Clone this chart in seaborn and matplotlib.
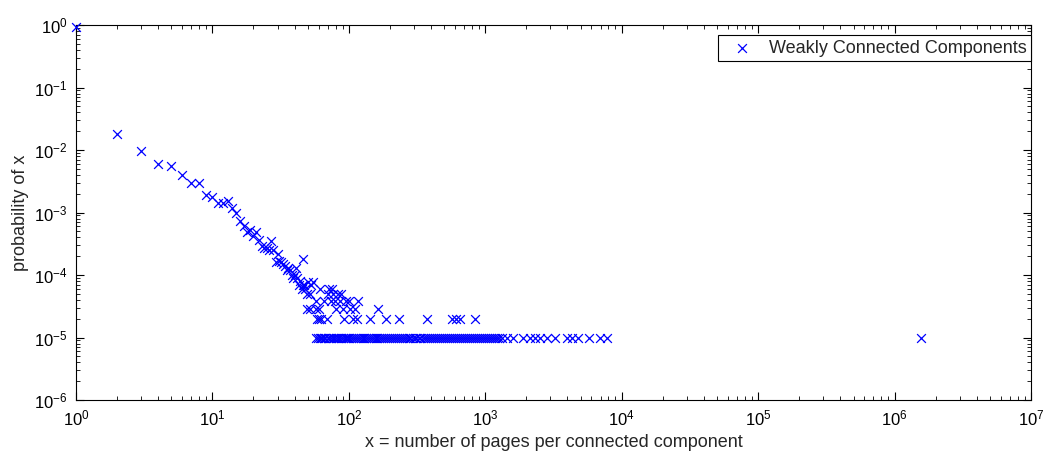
import numpy as np
import pandas as pd
import matplotlib
matplotlib.use("Agg")
import matplotlib.pyplot as plt
import seaborn as sns
from matplotlib.ticker import LogLocator, NullFormatter

# ---- data ----
head_sizes = [1, 2, 3, 4, 5, 6, 7, 8, 9, 10, 11, 12, 13, 14, 15, 16, 17, 18, 19, 20,
              21, 22, 23, 24, 25, 26, 27, 28, 29, 30, 31, 32, 33, 34, 35, 36, 37, 38,
              39, 40, 41, 42, 43, 44, 45, 46, 47]
head_probs = [0.93, 0.018, 0.0095, 0.006, 0.0055, 0.004, 0.003, 0.003, 0.0019, 0.0018,
              0.0014, 0.0014, 0.0015, 0.0012, 0.001, 0.00073, 0.0006, 0.00048, 0.00052,
              0.00042, 0.00049, 0.00036, 0.00029, 0.00027, 0.00027, 0.00025, 0.00035,
              0.00025, 0.00016, 0.00022, 0.00017, 0.00016, 0.00015, 0.00014, 0.00012,
              0.00013, 0.00012, 0.0001, 0.000088, 0.0001, 0.00013, 0.000088, 0.00007,
              0.00008, 0.00006, 0.00018, 0.00007]

sizes_k8 = [50, 55]
sizes_k7 = [46, 53]
sizes_k6 = [48, 61, 72, 75]
sizes_k5 = [49, 52, 70, 77, 83, 88]
sizes_k4 = [57, 66, 74, 79, 86, 96, 101, 117]
sizes_k3 = [49, 52, 57, 60, 81, 91, 102, 111, 164]
sizes_k2 = [58, 60, 63, 69, 92, 107, 115, 144, 187, 235, 372, 568, 611, 653, 841]
sizes_k1 = [57, 59, 61, 62, 64, 66, 67, 70, 72, 74, 76, 78, 80, 83, 85, 88, 90, 93, 95,
            98, 101, 104, 108, 111, 114, 118, 122, 126, 130, 134, 138, 142, 147, 152,
            157, 162, 167, 172, 178, 184, 190, 196, 203, 210, 217, 224, 232, 240, 248,
            256, 265, 274, 283, 293, 303, 313, 324, 335, 347, 359, 371, 384, 397, 411,
            425, 440, 455, 471, 487, 504, 521, 539, 558, 577, 597, 618, 640, 662, 685,
            709, 734, 760, 786, 814, 842, 871, 902, 933, 965, 1000, 1035, 1071, 1108,
            1147, 1187, 1228, 1271, 1315, 1443, 1600, 1890, 2125, 2320, 2520, 2840,
            3250, 3990, 4330, 4770, 5800, 6940, 7780, 1570000]
level_probs = [7.8e-5, 6.9e-5, 5.9e-5, 4.9e-5, 3.9e-5, 2.9e-5, 1.96e-5, 9.8e-6]

tail_groups = [sizes_k8, sizes_k7, sizes_k6, sizes_k5, sizes_k4, sizes_k3, sizes_k2, sizes_k1]
xs = list(head_sizes)
ys = list(head_probs)
for grp, lev in zip(tail_groups, level_probs):
    xs += grp
    ys += [lev] * len(grp)
df = pd.DataFrame({"size": xs, "prob": ys})

# ---- style ----
sns.set_style("white")
plt.rcParams["font.family"] = ["Liberation Sans", "DejaVu Sans"]
plt.rcParams["mathtext.fontset"] = "custom"
plt.rcParams["mathtext.rm"] = "Liberation Sans"

fig = plt.figure(figsize=(10.51, 4.51), dpi=100)
ax = fig.add_axes([76 / 1051, 1 - 400 / 451, (1031 - 76) / 1051, (400 - 25) / 451])

sns.scatterplot(data=df, x="size", y="prob", ax=ax, marker="x", color="#0000ff",
                s=40, linewidth=0.9, label="Weakly Connected Components", zorder=3,
                clip_on=False)

ax.set_xscale("log")
ax.set_yscale("log")
ax.set_xlim(1, 1e7)
ax.set_ylim(1e-6, 1)
ax.xaxis.set_major_locator(LogLocator(base=10, numticks=20))
ax.yaxis.set_major_locator(LogLocator(base=10, numticks=20))
ax.xaxis.set_minor_locator(LogLocator(base=10, subs=np.arange(2, 10), numticks=100))
ax.yaxis.set_minor_locator(LogLocator(base=10, subs=np.arange(2, 10), numticks=100))
ax.xaxis.set_minor_formatter(NullFormatter())
ax.yaxis.set_minor_formatter(NullFormatter())

for sp in ax.spines.values():
    sp.set_color("black")
    sp.set_linewidth(0.8)
ax.tick_params(which="both", direction="in", top=True, right=True, bottom=True, left=True,
               color="black", labelsize=12, labelcolor="black")
ax.tick_params(which="major", length=6, width=0.8, pad=6)
ax.tick_params(which="minor", length=3, width=0.6)

ax.set_xlabel("x = number of pages per connected component", fontsize=13, labelpad=4)
ax.set_ylabel("probability of x", fontsize=13, labelpad=4)

leg = ax.legend(loc="upper right", bbox_to_anchor=(1.0, 1 - 10 / 375), borderaxespad=0,
                fontsize=13, frameon=True, fancybox=False, framealpha=1,
                handlelength=2.1, handletextpad=0.45, borderpad=0.25)
leg.get_frame().set_edgecolor("black")
leg.get_frame().set_linewidth(0.8)

fig.savefig("out.png", dpi=100, facecolor="white")
